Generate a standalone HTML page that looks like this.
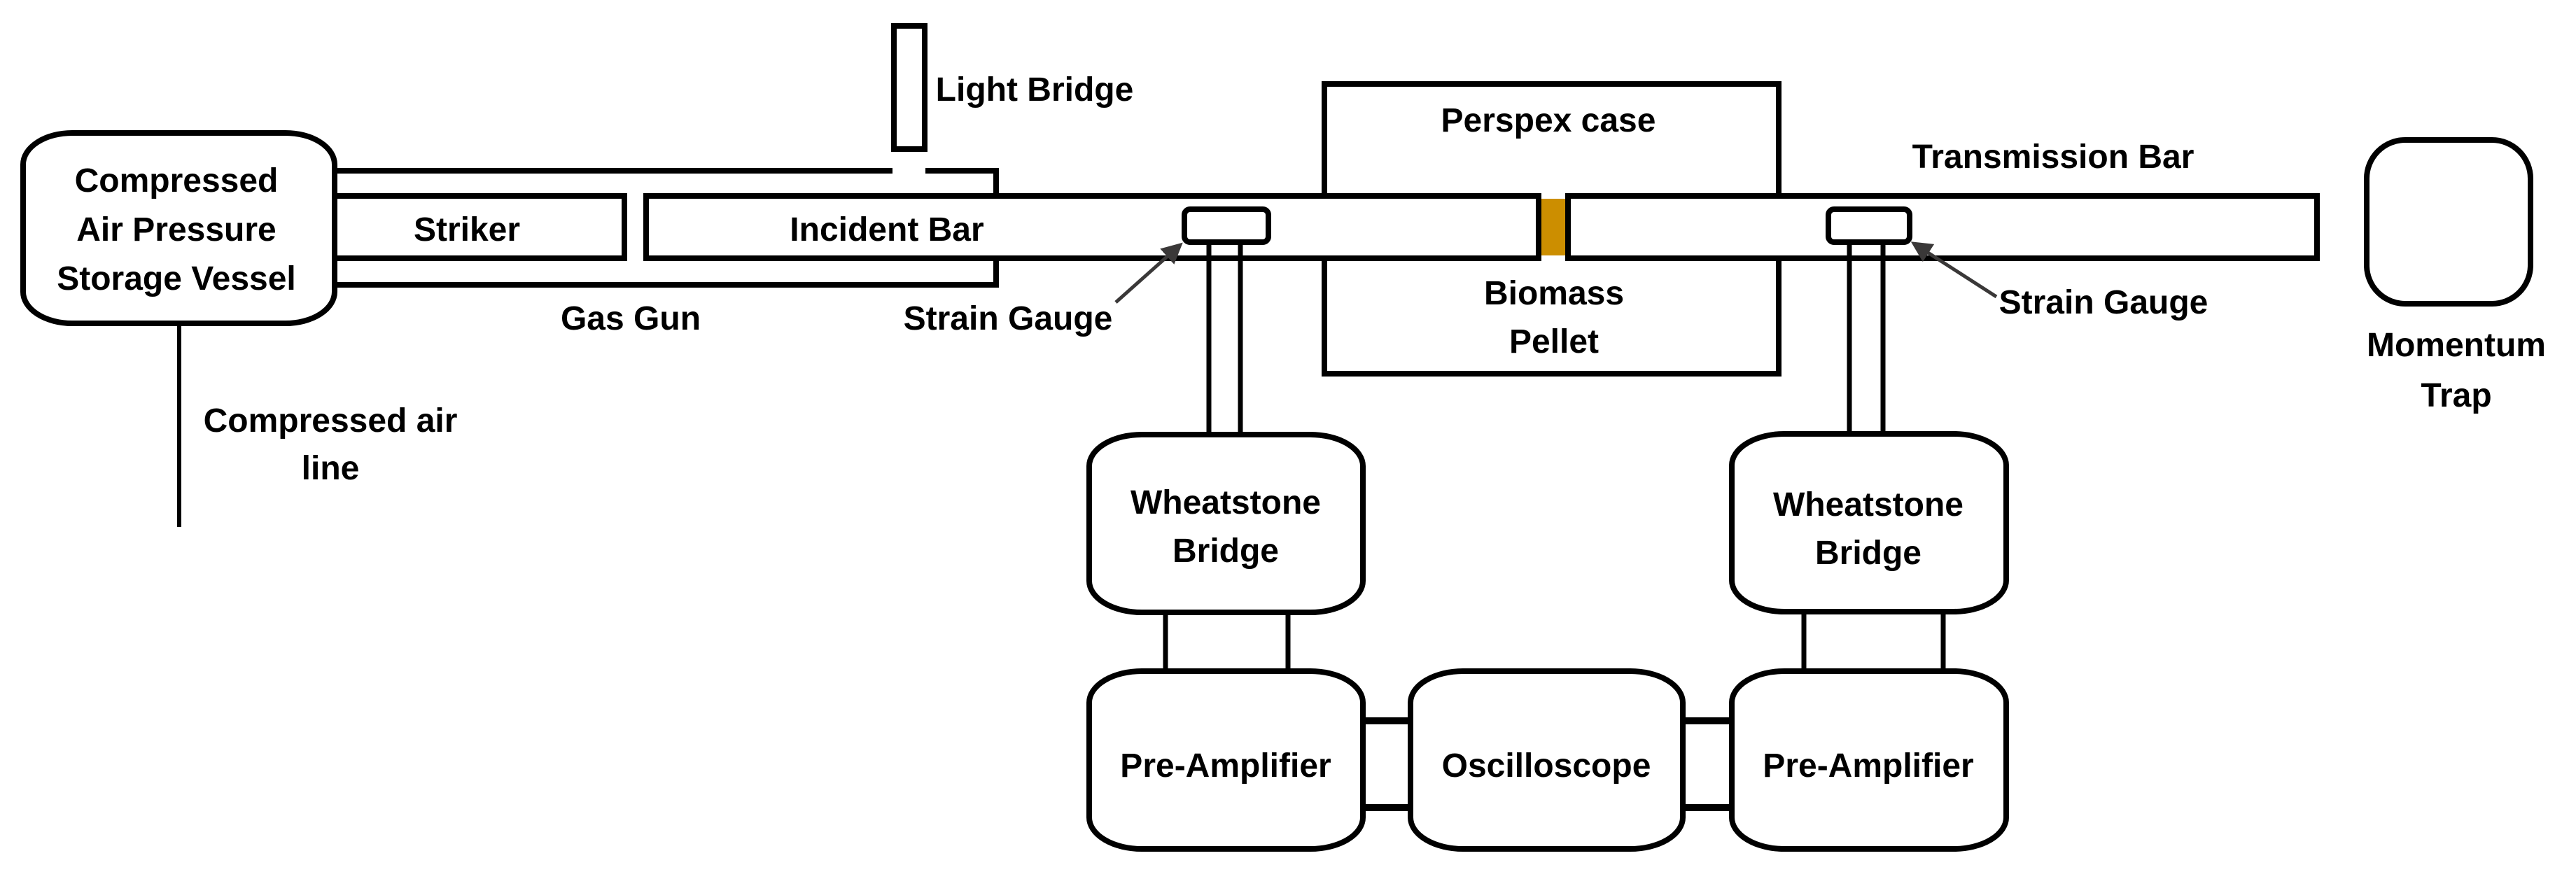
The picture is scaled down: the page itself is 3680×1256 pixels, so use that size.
<!DOCTYPE html>
<html><head><meta charset="utf-8"><style>
html,body{margin:0;padding:0;background:#fff;}
svg{display:block;}
text{font-family:"Liberation Sans",sans-serif;font-weight:bold;font-size:48px;fill:#000;text-anchor:middle;}
</style></head><body>
<svg width="3680" height="1256" viewBox="0 0 3680 1256" xmlns="http://www.w3.org/2000/svg">
<defs><marker id="ah" markerWidth="6" markerHeight="6" refX="5" refY="3" orient="auto" markerUnits="strokeWidth"><path d="M0,0 L6,3 L0,6 z" fill="#3a3838"/></marker></defs>
<g fill="none" stroke="#000" stroke-width="8">
<rect x="33" y="190" width="445" height="272" rx="70" ry="45"/>
<line x1="256" y1="462" x2="256" y2="753" stroke-width="6"/>
<polyline points="478,244 1275,244"/>
<polyline points="1322,244 1423,244 1423,280"/>
<polyline points="478,407 1423,407 1423,369"/>
<rect x="1277" y="37" width="44" height="176"/>
<polyline points="478,280 892,280 892,369 478,369"/>
<polyline points="1892,280 1892,120 2541,120 2541,280"/>
<polyline points="1892,369 1892,534 2541,534 2541,369"/>
<rect x="923" y="280" width="1275" height="89"/>
<rect x="2240" y="280" width="1070" height="89"/>
<rect x="1692" y="299" width="120" height="47" rx="8"/>
<rect x="2612" y="299" width="116" height="47" rx="8"/>
<line x1="1727" y1="346" x2="1727" y2="621" stroke-width="7"/>
<line x1="1772" y1="346" x2="1772" y2="621" stroke-width="7"/>
<line x1="2642" y1="346" x2="2642" y2="621" stroke-width="7"/>
<line x1="2690" y1="346" x2="2690" y2="621" stroke-width="7"/>
<rect x="3381" y="200" width="234" height="234" rx="55"/>
<rect x="1556" y="621" width="391" height="254" rx="75" ry="45"/>
<rect x="2474" y="620" width="392" height="254" rx="75" ry="45"/>
<rect x="1556" y="959" width="391" height="254" rx="75" ry="45"/>
<rect x="2015" y="959" width="389" height="254" rx="75" ry="45"/>
<rect x="2474" y="959" width="392" height="254" rx="75" ry="45"/>
<line x1="1665" y1="875" x2="1665" y2="959" stroke-width="7"/>
<line x1="1840" y1="875" x2="1840" y2="959" stroke-width="7"/>
<line x1="2577" y1="874" x2="2577" y2="959" stroke-width="7"/>
<line x1="2776" y1="874" x2="2776" y2="959" stroke-width="7"/>
<line x1="1947" y1="1030" x2="2015" y2="1030" stroke-width="10"/>
<line x1="1947" y1="1154" x2="2015" y2="1154" stroke-width="10"/>
<line x1="2404" y1="1030" x2="2474" y2="1030" stroke-width="10"/>
<line x1="2404" y1="1154" x2="2474" y2="1154" stroke-width="10"/>
</g>
<rect x="2202" y="284" width="34" height="81" fill="#CC8E00"/>
<line x1="1594" y1="432" x2="1686" y2="350" stroke="#3a3838" stroke-width="5" marker-end="url(#ah)"/>
<line x1="2852" y1="424" x2="2734" y2="348" stroke="#3a3838" stroke-width="5" marker-end="url(#ah)"/>
<text x="252" y="274">Compressed</text>
<text x="252" y="344">Air Pressure</text>
<text x="252" y="414">Storage Vessel</text>
<text x="667" y="344">Striker</text>
<text x="1267" y="344">Incident Bar</text>
<text x="1478" y="144">Light Bridge</text>
<text x="901" y="471">Gas Gun</text>
<text x="1440" y="471">Strain Gauge</text>
<text x="472" y="617">Compressed air</text>
<text x="472" y="685">line</text>
<text x="2212" y="188">Perspex case</text>
<text x="2933" y="240">Transmission Bar</text>
<text x="2220" y="435">Biomass</text>
<text x="2220" y="504">Pellet</text>
<text x="3005" y="448">Strain Gauge</text>
<text x="3509" y="509">Momentum</text>
<text x="3509" y="581">Trap</text>
<text x="1751" y="734">Wheatstone</text>
<text x="1751" y="803">Bridge</text>
<text x="2669" y="737">Wheatstone</text>
<text x="2669" y="806">Bridge</text>
<text x="1751" y="1110">Pre-Amplifier</text>
<text x="2209" y="1110">Oscilloscope</text>
<text x="2669" y="1110">Pre-Amplifier</text>
</svg>
</body></html>
